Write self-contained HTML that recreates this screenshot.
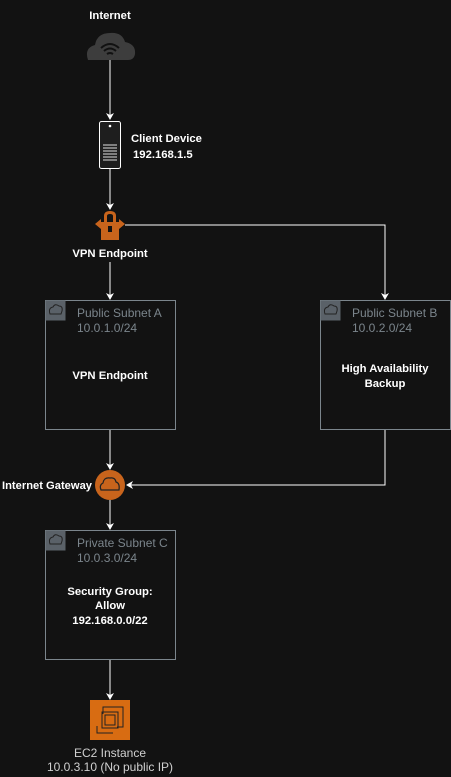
<!DOCTYPE html>
<html><head><style>
html,body{margin:0;padding:0;background:#121212;}
svg{display:block;}
text{font-family:"Liberation Sans",sans-serif;font-size:12px;}
text.b{font-weight:bold;font-size:11.3px;}
</style></head><body>
<svg width="451" height="777" viewBox="0 0 451 777" xmlns="http://www.w3.org/2000/svg">
<rect width="451" height="777" fill="#121212"/>
<!-- Internet -->
<text class="b" x="110" y="19" text-anchor="middle" fill="#fff">Internet</text>
<path d="M88,60 Q84,48 95,45 Q97,33 110,33 Q122,32 125,42 Q136,44 135,54 Q134,60 128,60 Z" fill="#3d3d3d"/>
<g fill="none" stroke="#111" stroke-width="2">
<path d="M101,48 Q110,40 119,48"/><path d="M104,51 Q110,46 116,51"/><path d="M107,54 Q110,52 113,54"/></g>
<line x1="110" y1="60" x2="110" y2="119" stroke="#fff" stroke-width="1"/>
<path d="M106,113 L110,120 L114,113 L110,115Z" fill="#fff"/>
<!-- Client -->
<rect x="99.5" y="121.5" width="21" height="47" rx="2" fill="#1e1e1e" stroke="#fff"/>
<circle cx="110" cy="126" r="1.3" fill="#fff"/>
<g stroke="#ddd"><line x1="103" y1="145" x2="117" y2="145"/><line x1="103" y1="148" x2="117" y2="148"/><line x1="103" y1="151" x2="117" y2="151"/><line x1="103" y1="154" x2="117" y2="154"/><line x1="103" y1="157" x2="117" y2="157"/><line x1="103" y1="160" x2="117" y2="160"/></g>
<text class="b" x="131" y="142" fill="#fff">Client Device</text>
<text class="b" x="133" y="158" fill="#fff">192.168.1.5</text>
<line x1="110" y1="169" x2="110" y2="209" stroke="#fff"/>
<path d="M106,203 L110,210 L114,203 L110,205Z" fill="#fff"/>
<!-- VPN icon -->
<g fill="#c8641c">
<path d="M104,222 L104,216 Q104,211 110,211 Q116,211 116,216 L116,222 L113,222 L113,216 Q113,214 110,214 Q107,214 107,216 L107,222Z"/>
<rect x="101" y="222" width="18" height="18"/>
<path d="M95,224 L101,219 L101,229 Z"/><path d="M125,224 L119,219 L119,229 Z"/>
</g>
<rect x="108" y="226" width="4" height="6" fill="#121212"/>
<text class="b" x="110" y="257" text-anchor="middle" fill="#fff">VPN Endpoint</text>
<polyline points="125,225 385,225 385,299" fill="none" stroke="#fff"/>
<path d="M381,293 L385,300 L389,293 L385,295Z" fill="#fff"/>
<line x1="110" y1="262" x2="110" y2="299" stroke="#fff"/>
<path d="M106,293 L110,300 L114,293 L110,295Z" fill="#fff"/>
<!-- Subnet A -->
<rect x="45.5" y="300.5" width="130" height="129" fill="none" stroke="#7b858c"/>
<rect x="45.5" y="300.5" width="20" height="20" fill="#5a6168"/>
<path d="M50,314 Q48,308 53,307 Q55,303 59,306 Q63,306 62,311 L61,314Z" fill="none" stroke="#222" stroke-width="1"/>
<text x="77" y="317" fill="#7b858c">Public Subnet A</text>
<text x="77" y="332" fill="#7b858c">10.0.1.0/24</text>
<text class="b" x="110" y="379" text-anchor="middle" fill="#fff">VPN Endpoint</text>
<!-- Subnet B -->
<rect x="320.5" y="300.5" width="130" height="129" fill="none" stroke="#7b858c"/>
<rect x="320.5" y="300.5" width="20" height="20" fill="#5a6168"/>
<path d="M325,314 Q323,308 328,307 Q330,303 334,306 Q338,306 337,311 L336,314Z" fill="none" stroke="#222" stroke-width="1"/>
<text x="352" y="317" fill="#7b858c">Public Subnet B</text>
<text x="352" y="332" fill="#7b858c">10.0.2.0/24</text>
<text class="b" x="385" y="372" text-anchor="middle" fill="#fff">High Availability</text>
<text class="b" x="385" y="387" text-anchor="middle" fill="#fff">Backup</text>
<!-- lines to gateway -->
<line x1="110" y1="430" x2="110" y2="469" stroke="#fff"/>
<path d="M106,463 L110,470 L114,463 L110,465Z" fill="#fff"/>
<polyline points="385,430 385,485 127,485" fill="none" stroke="#fff"/>
<path d="M133,481 L126,485 L133,489 L131,485Z" fill="#fff"/>
<circle cx="110" cy="485" r="15" fill="#c8641c"/>
<path d="M101,490 Q99,485 103,483 Q104,477 110,478 Q115,477 116,482 Q120,483 119,490Z" fill="none" stroke="#222" stroke-width="1.2"/>
<text class="b" x="92" y="489" text-anchor="end" fill="#fff" textLength="90" lengthAdjust="spacingAndGlyphs">Internet Gateway</text>
<line x1="110" y1="500" x2="110" y2="529" stroke="#fff"/>
<path d="M106,523 L110,530 L114,523 L110,525Z" fill="#fff"/>
<!-- Subnet C -->
<rect x="45.5" y="530.5" width="130" height="129" fill="none" stroke="#7b858c"/>
<rect x="45.5" y="530.5" width="20" height="20" fill="#5a6168"/>
<path d="M50,544 Q48,538 53,537 Q55,533 59,536 Q63,536 62,541 L61,544Z" fill="none" stroke="#222" stroke-width="1"/>
<text x="77" y="547" fill="#7b858c">Private Subnet C</text>
<text x="77" y="562" fill="#7b858c">10.0.3.0/24</text>
<text class="b" x="110" y="595" text-anchor="middle" fill="#fff">Security Group:</text>
<text class="b" x="110" y="609" text-anchor="middle" fill="#fff">Allow</text>
<text class="b" x="110" y="624" text-anchor="middle" fill="#fff">192.168.0.0/22</text>
<line x1="110" y1="660" x2="110" y2="699" stroke="#fff"/>
<path d="M106,693 L110,700 L114,693 L110,695Z" fill="#fff"/>
<!-- EC2 -->
<rect x="90" y="700" width="40" height="40" fill="#d86c12"/>
<g fill="none" stroke="#222" stroke-width="1">
<path d="M97,726 L97,733 L113,733"/><path d="M103,714 L103,707 L123,707 L123,727 L117,727"/>
<rect x="102" y="712" width="16" height="16"/><rect x="105" y="715" width="10" height="10"/></g>
<text x="110" y="757" text-anchor="middle" fill="#d0d0d0">EC2 Instance</text>
<text x="110" y="771" text-anchor="middle" fill="#d0d0d0">10.0.3.10 (No public IP)</text>
</svg>
</body></html>
